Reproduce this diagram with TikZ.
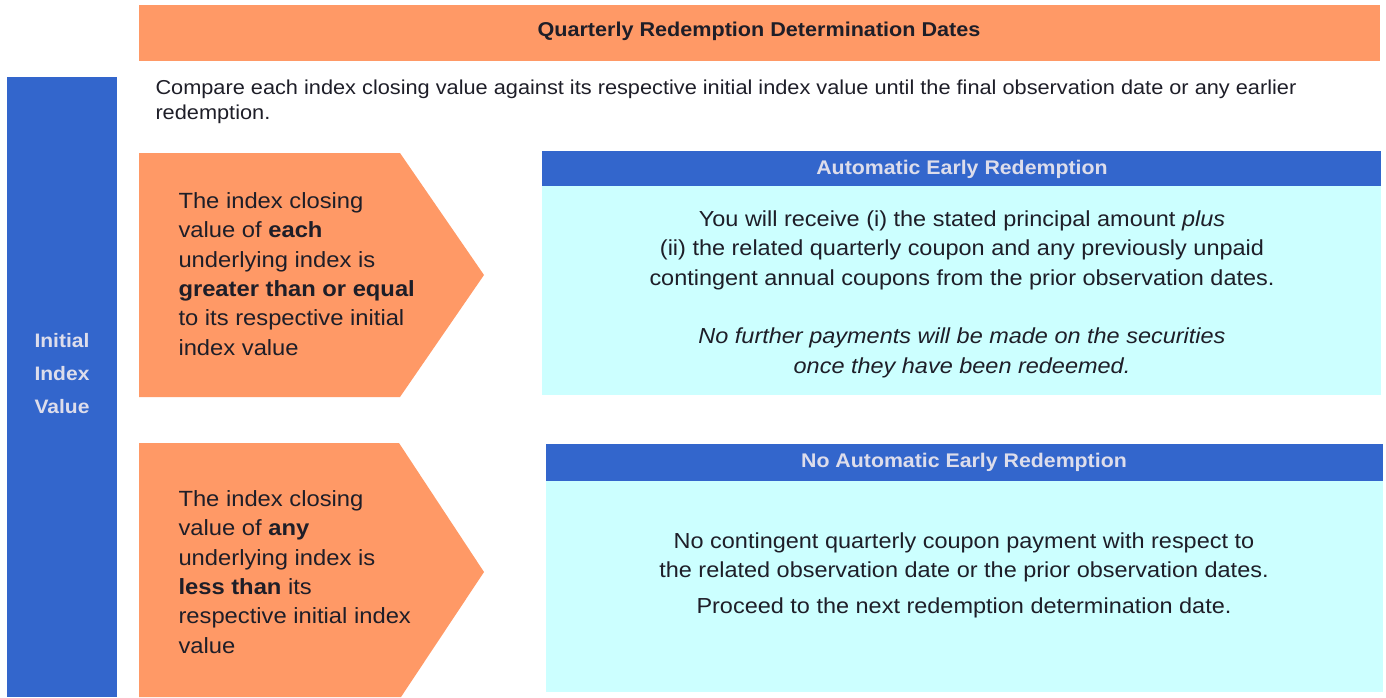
\documentclass[tikz,border=0pt]{standalone}
\usepackage{fontspec}
\setmainfont{Liberation Sans}[FakeStretch=1.08]

\definecolor{flowOrange}{RGB}{255,153,102}
\definecolor{flowBlue}{RGB}{51,102,204}
\definecolor{flowCyan}{RGB}{204,255,255}
\definecolor{flowInk}{RGB}{30,30,40}
\definecolor{flowPale}{RGB}{221,221,235}

\tikzset{every picture/.style={line width=0.75pt}}
\tikzset{
  orangefill/.style={fill=flowOrange, draw opacity=0},
  bluefill/.style={fill=flowBlue, draw opacity=0},
  cyanfill/.style={fill=flowCyan, draw opacity=0},
  condtext/.style={inner sep=0pt, text=flowInk, align=left, font=\fontsize{16.5}{22}\selectfont},
  boxtext/.style={inner sep=0pt, text=flowInk, align=center, font=\fontsize{16.3}{22.1}\selectfont},
  headtext/.style={inner sep=0pt, text=flowPale, align=center, font=\bfseries\fontsize{14.8}{18}\selectfont}
}

\begin{document}
\begin{tikzpicture}[x=0.75pt,y=0.75pt,yscale=-1,xscale=1]
\useasboundingbox (0,0) rectangle (1386,697);

%Shape: Rectangle [top banner]
\draw [orangefill] (139,5) rectangle (1380,61) ;
%Shape: Rectangle [left column]
\draw [bluefill] (7,77) rectangle (117,697) ;
%Shape: Pentagon arrow [upper]
\draw [orangefill] (139,153) -- (400,153) -- (484,275) -- (400,397) -- (139,397) -- cycle ;
%Shape: Pentagon arrow [lower]
\draw [orangefill] (139,443) -- (399,443) -- (484,572) -- (401,697) -- (139,697) -- cycle ;
%Shape: Rectangle [upper result]
\draw [bluefill] (542,151) rectangle (1381,186) ;
\draw [cyanfill] (542,186) rectangle (1381,395) ;
%Shape: Rectangle [lower result]
\draw [bluefill] (546,444) rectangle (1383,481) ;
\draw [cyanfill] (546,481) rectangle (1383,692) ;

% Text Node
\draw (759,22) node [anchor=north][inner sep=0pt] [text=flowInk] [font=\bfseries\fontsize{15}{18}\selectfont] (banner) {Quarterly Redemption Determination Dates};
% Text Node
\draw (155,79) node [anchor=north west][inner sep=0pt] [text=flowInk] [font=\fontsize{15.1}{18.75}\selectfont] [align=left] (compare) {Compare each index closing value against its respective initial index value until the final observation date or any earlier\\redemption.};
% Text Node
\draw (62,333) node [anchor=north][inner sep=0pt] [text=flowPale] [font=\bfseries\fontsize{14.6}{24.75}\selectfont] [align=center] (initial) {Initial\\Index\\Value};
% Text Node
\draw (178,192) node [anchor=north west] [condtext] (upcond) {The index closing\\value of \textbf{each}\\underlying index is\\\textbf{greater than or equal}\\to its respective initial\\index value};
% Text Node
\draw (178,490) node [anchor=north west] [condtext] (lowcond) {The index closing\\value of \textbf{any}\\underlying index is\\\textbf{less than} its\\respective initial index\\value};
% Text Node
\draw (962,160) node [anchor=north] [headtext] (uphead) {Automatic Early Redemption};
% Text Node
\draw (962,210) node [anchor=north] [boxtext] (upbody) {You will receive (i) the stated principal amount \textit{plus}\\(ii) the related quarterly coupon and any previously unpaid\\contingent annual coupons from the prior observation dates.\\[22pt]\textit{No further payments will be made on the securities}\\\textit{once they have been redeemed.}};
% Text Node
\draw (964,453) node [anchor=north] [headtext] (lowhead) {No Automatic Early Redemption};
% Text Node
\draw (964,532) node [anchor=north] [boxtext] (lowbody) {No contingent quarterly coupon payment with respect to\\the related observation date or the prior observation dates.\\[5pt]Proceed to the next redemption determination date.};

\end{tikzpicture}
\end{document}
